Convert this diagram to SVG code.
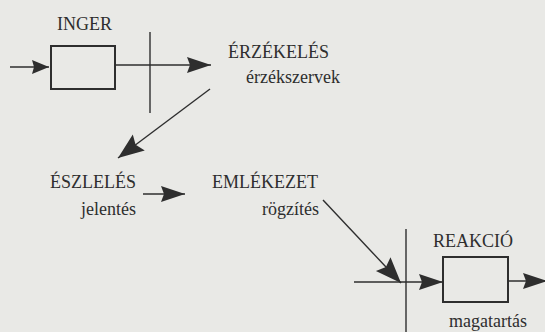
<svg xmlns="http://www.w3.org/2000/svg" width="545" height="332" viewBox="0 0 545 332">
<style>
.t{font-family:"Liberation Serif","Times New Roman","DejaVu Serif",serif;font-size:18px;fill:#2e2e2e}
.ln{stroke:#2e2e2e;stroke-width:1.4;fill:none}
.box{stroke:#2e2e2e;stroke-width:2;fill:none}
</style>
<defs>
<marker id="ah" markerUnits="userSpaceOnUse" markerWidth="26" markerHeight="18" refX="24" refY="8" orient="auto">
<path d="M0,0 L24,8 L0,16 L3,8 z" fill="#2e2e2e"/>
</marker>
<marker id="ahs" markerUnits="userSpaceOnUse" markerWidth="20" markerHeight="16" refX="17" refY="7" orient="auto">
<path d="M0,0 L17,7 L0,14 L2,7 z" fill="#2e2e2e"/>
</marker>
<marker id="ahb" markerUnits="userSpaceOnUse" markerWidth="28" markerHeight="22" refX="26" refY="10" orient="auto">
<path d="M0,0 L26,10 L0,20 L4,10 z" fill="#2e2e2e"/>
</marker>
</defs>
<rect width="545" height="332" fill="#e9e9e6"/>
<g id="inger">
<rect class="box" x="51" y="46" width="64" height="43"/>
<text class="t" x="57" y="30">INGER</text>
</g>
<g id="erzekeles">
<text class="t" x="228" y="58">ÉRZÉKELÉS</text>
<text class="t" x="246" y="83">érzékszervek</text>
</g>
<g id="eszleles">
<text class="t" x="136" y="188" text-anchor="end">ÉSZLELÉS</text>
<text class="t" x="136" y="215" text-anchor="end">jelentés</text>
</g>
<g id="emlekezet">
<text class="t" x="212" y="188">EMLÉKEZET</text>
<text class="t" x="262" y="215">rögzítés</text>
</g>
<g id="reakcio">
<rect class="box" x="443" y="257" width="65" height="45"/>
<text class="t" x="433" y="247">REAKCIÓ</text>
<text class="t" x="449" y="327">magatartás</text>
</g>
<g id="connectors">
<line class="ln" x1="10" y1="67" x2="49" y2="67" marker-end="url(#ahs)"/>
<line class="ln" x1="115" y1="65" x2="211" y2="65" marker-end="url(#ah)"/>
<line class="ln" x1="150" y1="32" x2="150" y2="113"/>
<line class="ln" x1="210" y1="89" x2="118" y2="158" marker-end="url(#ahb)"/>
<line class="ln" x1="143" y1="194" x2="185" y2="194" marker-end="url(#ah)"/>
<line class="ln" x1="323" y1="200" x2="401" y2="283" marker-end="url(#ahb)"/>
<line class="ln" x1="406" y1="229" x2="406" y2="332"/>
<line class="ln" x1="354" y1="282" x2="443" y2="282" marker-end="url(#ah)"/>
<line class="ln" x1="508" y1="281" x2="547" y2="281" marker-end="url(#ah)"/>
</g>
</svg>
